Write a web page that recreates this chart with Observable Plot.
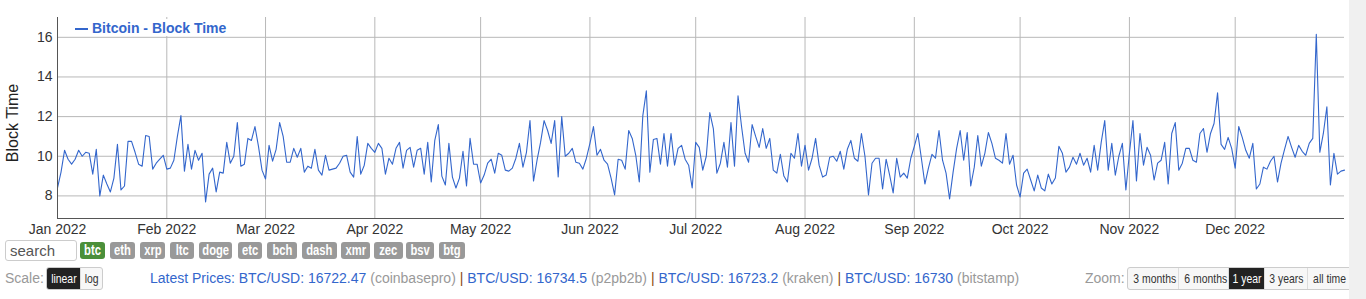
<!DOCTYPE html>
<html>
<head>
<meta charset="utf-8">
<script src="https://cdn.jsdelivr.net/npm/d3@7"></script>
<script src="https://cdn.jsdelivr.net/npm/@observablehq/plot@0.6"></script>
<style>
  html, body { margin: 0; padding: 0; background: #fff; }
  body { width: 1366px; height: 299px; overflow: hidden; font-family: "Liberation Sans", Arial, sans-serif; }
  #wrap { position: relative; width: 1366px; height: 299px; }
  #chart { position: absolute; left: 0; top: 0; }
  #strip { position: absolute; left: 1349px; top: 0; width: 17px; height: 299px; background: #f0f0f0; }
  #legend { position: absolute; left: 72px; top: 19px; width: 157px; height: 17px; background: #fff;
            color: #3366cc; font-weight: bold; font-size: 14px; line-height: 17px; white-space: nowrap; }
  #legend .dash { position: absolute; left: 3px; top: 9px; width: 13px; height: 2px; background: #3366cc; }
  #legend .lt { position: absolute; left: 20px; top: 1px; }
  .cond { display: inline-block; transform: scaleX(0.8); transform-origin: center; white-space: nowrap; }
  #search { position: absolute; left: 5px; top: 240px; width: 66px; height: 19px; border: 1px solid #ccc; border-radius: 3px;
            font-size: 15px; color: #555; line-height: 19px; padding-left: 4px; box-sizing: content-box; }
  .coin { position: absolute; top: 242px; height: 17px; line-height: 17px; border-radius: 3px; background: #999;
          color: #fff; font-weight: bold; font-size: 14px; text-align: center; white-space: nowrap; overflow: hidden; }
  .coin.on { background: #4b8f3a; }
  .lbl { position: absolute; top: 269px; font-size: 14px; color: #999; line-height: 18px; }
  .grp { position: absolute; top: 267px; height: 21px; border: 1px solid #ccc; border-radius: 3px; background: #f7f7f7; display: flex; overflow: hidden; }
  .grp span.b { display: block; height: 21px; line-height: 21px; font-size: 13px; color: #333; text-align: center; border-left: 1px solid #ddd; white-space: nowrap; overflow: hidden; }
  .grp span.b:first-child { border-left: none; }
  .grp span.b.on { background: #222; color: #fff; }
  #prices { position: absolute; left: 150px; top: 269px; font-size: 14px; line-height: 18px; white-space: nowrap; color: #3366cc; }
  #prices .ex { color: #999; }
  #prices .sep { color: #8a4a12; }
</style>
</head>
<body>
<div id="wrap">
  <div id="chart"></div>
  <div id="legend"><span class="dash"></span><span class="lt">Bitcoin - Block Time</span></div>
  <div id="controls"></div>
  <div id="strip"></div>
</div>
<script>
// ---- data: Bitcoin average block time (minutes), daily, 2022 ----
const jan2022 = [8.4,9.2,10.3,9.85,9.6,9.85,10.3,10.0,10.2,10.15,9.1,10.35,8.0,9.05,8.6,8.2,8.9,10.6,8.3,8.5,10.75,10.75,10.2,9.6,9.5,11.05,11.0,9.35,9.65,9.85,10.05];
const feb2022 = [9.35,9.4,9.8,11.0,12.05,9.25,10.6,9.35,10.3,9.8,10.15,7.7,9.1,9.4,8.2,9.2,9.15,10.7,9.65,10.0,11.7,9.5,9.6,10.9,10.8,11.5,10.5,9.3];
const mar2022 = [8.85,10.55,9.75,10.35,11.7,11.0,9.7,9.7,10.4,9.95,10.4,9.2,9.5,9.4,10.35,9.3,9.05,10.05,9.3,9.35,9.4,9.65,10.0,10.05,9.2,8.95,11.0,9.1,9.55,10.65,10.4];
const apr2022 = [10.2,10.65,10.4,9.1,9.9,9.6,10.4,10.7,9.4,10.3,10.45,9.45,10.3,10.4,9.1,10.7,8.7,10.8,11.6,9.0,8.55,10.65,8.95,8.4,8.9,10.25,8.5,10.9,9.6,9.6];
const may2022 = [8.65,9.05,9.65,9.85,9.15,10.15,10.05,9.3,9.25,9.4,9.9,10.65,9.45,10.2,11.8,8.75,9.8,10.7,11.8,11.3,10.65,11.8,8.95,12.0,10.0,10.15,10.4,9.7,9.65,9.35,9.9];
const jun2022 = [10.65,11.5,10.05,10.35,9.8,9.6,8.9,8.05,9.85,9.8,9.35,11.3,10.9,10.05,8.7,12.05,13.3,9.2,10.85,10.9,9.6,11.15,9.5,11.15,9.55,10.4,10.55,9.85,9.55,8.4];
const jul2022 = [10.7,10.45,9.3,10.0,12.2,11.4,9.15,9.65,10.7,9.45,11.7,9.5,13.05,11.5,10.15,9.7,11.6,11.0,10.45,11.4,10.4,10.9,9.3,9.15,10.1,9.0,8.7,10.15,9.9,11.15,9.5];
const aug2022 = [10.55,9.3,9.9,10.9,9.55,8.95,9.05,9.95,10.0,9.75,10.25,9.35,10.35,10.8,9.9,9.75,11.15,10.0,8.05,9.65,9.9,9.9,8.35,9.85,9.05,8.15,9.9,8.95,9.15,8.9,9.9];
const sep2022 = [10.5,11.15,9.9,8.6,9.4,10.1,9.9,11.3,9.8,9.15,7.85,9.2,10.4,11.3,9.8,11.2,8.5,9.45,11.05,9.5,10.15,11.2,10.65,9.9,9.8,9.65,11.15,9.6,10.05,8.55];
const oct2022 = [7.95,9.15,9.35,8.8,8.25,9.05,8.4,8.25,9.1,8.6,8.9,10.5,10.15,9.2,9.45,9.95,9.6,10.15,9.55,9.9,9.2,10.55,9.3,10.7,11.8,9.3,10.65,9.05,10.0,10.65,8.3];
const nov2022 = [10.15,11.8,8.75,11.15,9.55,10.45,10.05,8.8,9.65,9.8,10.7,8.6,11.15,11.7,9.3,9.65,10.4,10.4,9.8,9.7,11.15,11.4,10.2,11.15,11.65,13.2,10.6,10.35,10.95,10.4];
const dec2022 = [9.4,11.5,10.95,10.3,9.9,10.65,8.35,8.6,9.45,9.35,9.75,10.0,8.7,9.65,10.35,11.0,10.45,9.95,10.55,10.25,10.05,10.65,10.9,16.15,10.2,11.15,12.5,8.55,10.15,9.1,9.25];
const jan2023 = [9.3];

const monthSeries = [
  [2022, 0, jan2022], [2022, 1, feb2022], [2022, 2, mar2022], [2022, 3, apr2022],
  [2022, 4, may2022], [2022, 5, jun2022], [2022, 6, jul2022], [2022, 7, aug2022],
  [2022, 8, sep2022], [2022, 9, oct2022], [2022, 10, nov2022], [2022, 11, dec2022],
  [2023, 0, jan2023]
];
const monthLabels = ["Jan 2022","Feb 2022","Mar 2022","Apr 2022","May 2022","Jun 2022","Jul 2022","Aug 2022","Sep 2022","Oct 2022","Nov 2022","Dec 2022"];
const yTicks = [8, 10, 12, 14, 16];
const yDomain = [6.86, 17.0];
const seriesName = "Bitcoin - Block Time";
const yLabel = "Block Time";

const coins = ["btc","eth","xrp","ltc","doge","etc","bch","dash","xmr","zec","bsv","btg"];
const prices = [["16722.47","coinbasepro"],["16734.5","p2pb2b"],["16723.2","kraken"],["16730","bitstamp"]];
const zoomOpts = ["3 months","6 months","1 year","3 years","all time"];

// ---- build table ----
const data = [];
for (const [yr, mo, vals] of monthSeries) {
  vals.forEach((v, i) => data.push({date: new Date(Date.UTC(yr, mo, i + 1)), value: v}));
}
const x0 = new Date(Date.UTC(2022, 0, 1));
const x1 = new Date(Date.UTC(2023, 0, 1));
const monthTicks = monthLabels.map((_, i) => new Date(Date.UTC(2022, i, 1)));

const chart = Plot.plot({
  width: 1366,
  height: 237,
  marginLeft: 57,
  marginRight: 22,
  marginTop: 17,
  marginBottom: 19,
  style: {fontFamily: "'Liberation Sans', Arial, sans-serif", fontSize: "14px", color: "#333", background: "transparent"},
  x: {type: "utc", domain: [x0, x1]},
  y: {domain: yDomain},
  marks: [
    Plot.gridX(monthTicks, {stroke: "#b8b8b8", strokeOpacity: 1}),
    Plot.gridY(yTicks, {stroke: "#b8b8b8", strokeOpacity: 1}),
    Plot.axisX(monthTicks, {tickSize: 0, tickPadding: 6, label: null, fontSize: 14,
      tickFormat: d => monthLabels[d.getUTCMonth()]}),
    Plot.axisY(yTicks, {tickSize: 0, tickPadding: 5, label: null, fontSize: 14}),
    Plot.lineY(data, {x: "date", y: "value", stroke: "#3366cc", strokeWidth: 1.1}),
    Plot.ruleX([x0], {stroke: "#555"}),
    Plot.ruleY([yDomain[0]], {stroke: "#555"}),
    Plot.text([yLabel], {frameAnchor: "left", rotate: -90, textAnchor: "middle", dx: -45, dy: 5, fontSize: 16, fill: "#222"})
  ]
});
document.getElementById("chart").appendChild(chart);

// ---- controls below the chart ----
const ctl = document.getElementById("controls");
let html = '<div id="search">search</div>';
const coinX = [80, 110, 140, 170, 199, 238, 267, 302, 341, 374, 406, 439];
const coinW = [25, 25, 25, 24, 33, 24, 30, 35, 29, 29, 28, 26];
coins.forEach((c, i) => {
  html += `<div class="coin${i === 0 ? " on" : ""}" style="left:${coinX[i]}px;width:${coinW[i]}px"><span class="cond">${c}</span></div>`;
});
html += '<div class="lbl" style="left:5px">Scale:</div>';
html += '<div class="grp" style="left:46px"><span class="b on" style="width:33px"><span class="cond">linear</span></span><span class="b" style="width:21px"><span class="cond">log</span></span></div>';
let p = 'Latest Prices: ';
prices.forEach(([v, ex], i) => {
  p += `BTC/USD: ${v} <span class="ex">(${ex})</span>`;
  if (i < prices.length - 1) p += ' <span class="sep">|</span> ';
});
html += `<div id="prices">${p}</div>`;
html += '<div class="lbl" style="left:1085px">Zoom:</div>';
const zW = [50, 49, 35, 42, 43];
html += '<div class="grp" style="left:1127px">' + zoomOpts.map((z, i) =>
  `<span class="b${z === "1 year" ? " on" : ""}" style="width:${zW[i]}px"><span class="cond">${z}</span></span>`).join("") + '</div>';
ctl.innerHTML = html;
</script>
</body>
</html>
